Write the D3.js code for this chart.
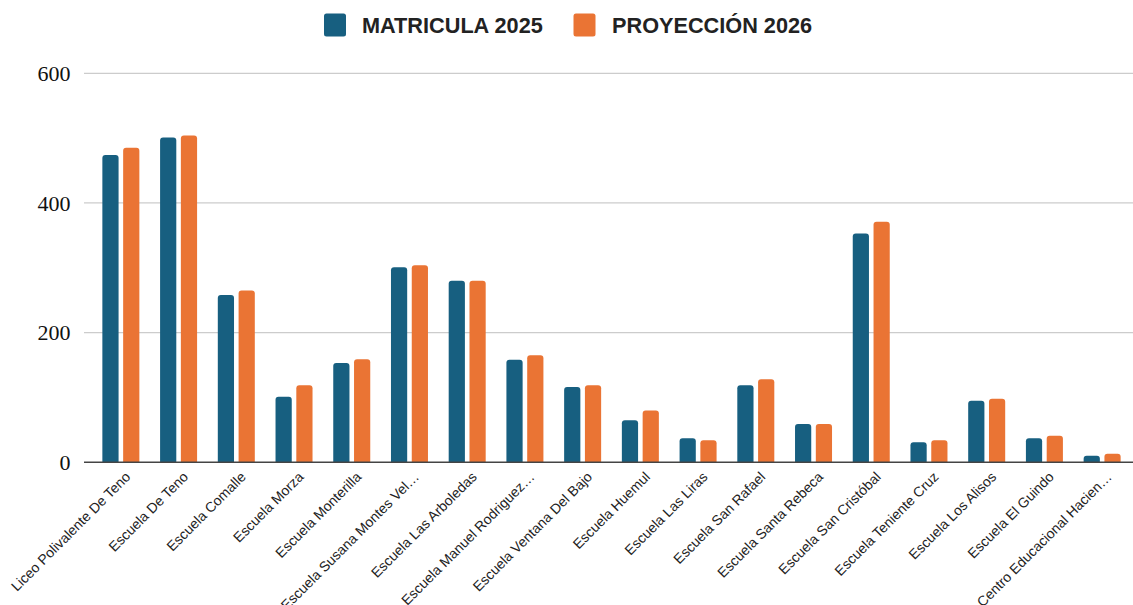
<!DOCTYPE html>
<html><head><meta charset="utf-8">
<script src="https://cdn.jsdelivr.net/npm/d3@7"></script>
<style>body{margin:0;background:#fff}</style>
</head><body>
<svg id="c" width="1133" height="605"></svg>
<script>
const categories = ["Liceo Polivalente De Teno","Escuela De Teno","Escuela Comalle","Escuela Morza","Escuela Monterilla","Escuela Susana Montes Vel…","Escuela Las Arboledas","Escuela Manuel Rodriguez…","Escuela Ventana Del Bajo","Escuela Huemul","Escuela Las Liras","Escuela San Rafael","Escuela Santa Rebeca","Escuela San Cristóbal","Escuela Teniente Cruz","Escuela Los Alisos","Escuela El Guindo","Centro Educacional Hacien…"];
const matricula2025 = [474,501,258,101,153,301,280,158,116,65,37,119,59,353,31,95,37,10];
const proyeccion2026 = [485,504,265,119,159,304,280,165,119,80,34,128,59,371,34,98,41,13];
const seriesNames = ["MATRICULA 2025","PROYECCIÓN 2026"];
const colors = ["#175f80","#ea7434"];
const yTicks = [0,200,400,600];

const svg = d3.select("#c");
const y = d3.scaleLinear().domain([0,600]).range([462.3,73.3]);
const x = d3.scaleBand().domain(categories).range([92,1131]).paddingInner(0).paddingOuter(0);
const xs = d3.scaleBand().domain([0,1]).range([x.bandwidth()/2-18.5, x.bandwidth()/2+18.5]).paddingInner(0.22);

// gridlines
svg.append("g").selectAll("line").data(yTicks.filter(d=>d>0)).join("line")
  .attr("x1",84).attr("x2",1133).attr("y1",d=>y(d)).attr("y2",d=>y(d))
  .attr("stroke","#cccccc").attr("stroke-width",1.3);

// y labels
svg.append("g").selectAll("text").data(yTicks).join("text")
  .attr("x",70.5).attr("y",d=>y(d)).attr("dy","0.35em").attr("text-anchor","end")
  .attr("font-family","Liberation Serif, serif").attr("font-size",22).attr("fill","#111")
  .text(d=>d);

// bars
const series = [matricula2025, proyeccion2026];
series.forEach((vals,si)=>{
  svg.append("g").selectAll("path").data(vals).join("path")
    .attr("fill",colors[si])
    .attr("d",(v,i)=>{
      const x0 = x(categories[i]) + xs(si), w = xs.bandwidth();
      const y0 = y(v), y1 = y(0), r = Math.min(3, (y1-y0));
      return `M${x0},${y1}V${y0+r}Q${x0},${y0} ${x0+r},${y0}H${x0+w-r}Q${x0+w},${y0} ${x0+w},${y0+r}V${y1}Z`;
    });
});

// baseline
svg.append("line").attr("x1",84).attr("x2",1133).attr("y1",y(0)).attr("y2",y(0))
  .attr("stroke","#444").attr("stroke-width",1.6);

// x labels
svg.append("g").selectAll("text").data(categories).join("text")
  .attr("transform",d=>`translate(${x(d)+x.bandwidth()/2+7},${y(0)+12}) rotate(-45)`)
  .attr("text-anchor","end").attr("dy","0.35em")
  .attr("font-family","Liberation Sans, Arial, sans-serif").attr("font-size",14).attr("fill","#222")
  .text(d=>d);

// legend
const legendItems = [{name:seriesNames[0],color:colors[0],x:324,tx:362},{name:seriesNames[1],color:colors[1],x:573.5,tx:612}];
const lg = svg.append("g");
legendItems.forEach(it=>{
  lg.append("rect").attr("x",it.x).attr("y",13.5).attr("width",22).attr("height",23).attr("rx",2.5).attr("fill",it.color);
  lg.append("text").attr("x",it.tx).attr("y",25).attr("dy","0.36em")
    .attr("font-family","Liberation Sans, Arial, sans-serif").attr("font-weight","bold").attr("font-size",21.7).attr("fill","#222")
    .text(it.name);
});
</script>
</body></html>
